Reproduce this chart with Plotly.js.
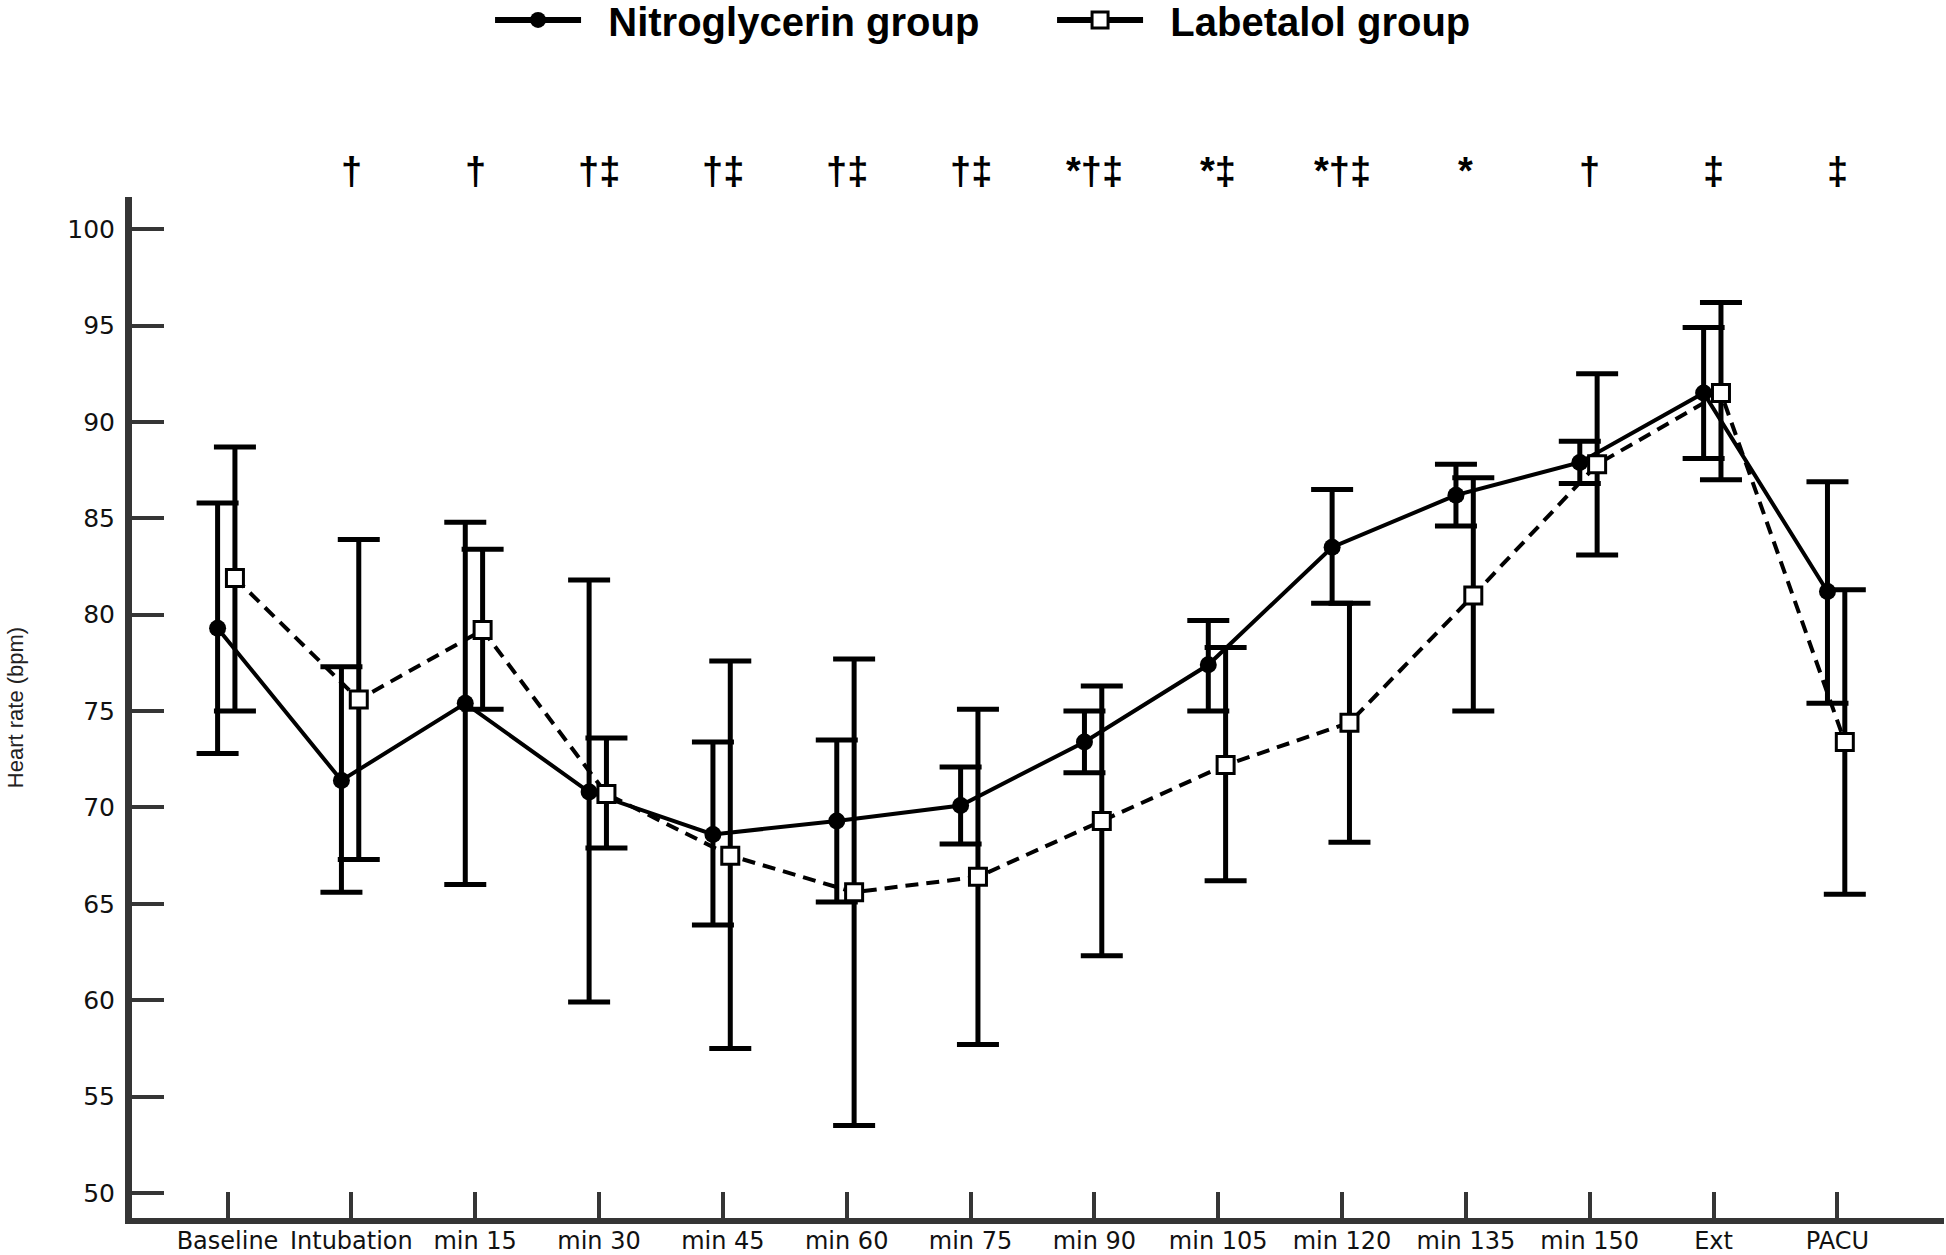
<!DOCTYPE html>
<html>
<head>
<meta charset="utf-8">
<script src="https://cdn.plot.ly/plotly-3.0.1.min.js"></script>
<style>
  html, body { margin: 0; padding: 0; background: #ffffff; }
  #chart { width: 1946px; height: 1255px; }
</style>
</head>
<body>
<div id="chart"></div>
<script>
// ---- data ----
const categories = ["Baseline", "Intubation", "min 15", "min 30", "min 45", "min 60", "min 75",
                    "min 90", "min 105", "min 120", "min 135", "min 150", "Ext", "PACU"];

const nitroMean  = [79.3, 71.4, 75.4, 70.8, 68.6, 69.3, 70.1, 73.4, 77.4, 83.5, 86.2, 87.9, 91.5, 81.2];
const nitroUpper = [85.8, 77.3, 84.8, 81.8, 73.4, 73.5, 72.1, 75.0, 79.7, 86.5, 87.8, 89.0, 94.9, 86.9];
const nitroLower = [72.8, 65.6, 66.0, 59.9, 63.9, 65.1, 68.1, 71.8, 75.0, 80.6, 84.6, 86.8, 88.1, 75.4];

const labMean  = [81.9, 75.6, 79.2, 70.7, 67.5, 65.6, 66.4, 69.3, 72.2, 74.4, 81.0, 87.8, 91.5, 73.4];
const labUpper = [88.7, 83.9, 83.4, 73.6, 77.6, 77.7, 75.1, 76.3, 78.3, 80.6, 87.1, 92.5, 96.2, 81.3];
const labLower = [75.0, 67.3, 75.1, 67.9, 57.5, 53.5, 57.7, 62.3, 66.2, 68.2, 75.0, 83.1, 87.0, 65.5];

const significance = ["", "†", "†", "†‡", "†‡", "†‡", "†‡", "*†‡", "*‡", "*†‡", "*", "†", "‡", "‡"];

const seriesNames = ["Nitroglycerin group", "Labetalol group"];
const yTickValues = [50, 55, 60, 65, 70, 75, 80, 85, 90, 95, 100];

// ---- helpers ----
const idx = categories.map((_, i) => i);
const nitroX = idx.map(i => i - 0.08);
const labX   = idx.map(i => i + 0.06);
const diff = (a, b) => a.map((v, i) => v - b[i]);

const axisColor = "#353535";
const tickFontFamily = "DejaVu Sans, Verdana, sans-serif";
const nbsp = "\u00A0\u00A0";

const circleMarker = { symbol: "circle", size: 17, color: "#000000" };
const squareMarker = { symbol: "square", size: 17, color: "#ffffff", line: { color: "#000000", width: 3 } };

const traces = [
  {
    type: "scatter",
    mode: "lines+markers",
    name: seriesNames[0],
    showlegend: false,
    x: nitroX,
    y: nitroMean,
    line: { color: "#000000", width: 4 },
    marker: circleMarker,
    error_y: {
      type: "data", symmetric: false,
      array: diff(nitroUpper, nitroMean),
      arrayminus: diff(nitroMean, nitroLower),
      color: "#000000", thickness: 5, width: 21
    },
    cliponaxis: false
  },
  {
    type: "scatter",
    mode: "lines+markers",
    name: seriesNames[1],
    showlegend: false,
    x: labX,
    y: labMean,
    line: { color: "#000000", width: 4, dash: "13px,8px" },
    marker: squareMarker,
    error_y: {
      type: "data", symmetric: false,
      array: diff(labUpper, labMean),
      arrayminus: diff(labMean, labLower),
      color: "#000000", thickness: 5, width: 21
    },
    cliponaxis: false
  },
  // legend keys (solid line with the group's marker, as in the reference key)
  {
    type: "scatter", mode: "lines+markers",
    name: nbsp + seriesNames[0],
    x: [null], y: [null],
    line: { color: "#000000", width: 6 },
    marker: circleMarker,
    hoverinfo: "skip"
  },
  {
    type: "scatter", mode: "lines+markers",
    name: nbsp + seriesNames[1],
    x: [null], y: [null],
    line: { color: "#000000", width: 6 },
    marker: squareMarker,
    hoverinfo: "skip"
  }
];

const annotations = significance.map((s, i) => ({
  x: i, y: 1.0255, xref: "x", yref: "paper",
  text: s, showarrow: false,
  xanchor: "center", yanchor: "middle",
  font: { family: "Liberation Sans, Arial, sans-serif", size: 38, color: "#000000", weight: "bold" }
})).filter(a => a.text !== "");

const layout = {
  width: 1946,
  height: 1255,
  paper_bgcolor: "#ffffff",
  plot_bgcolor: "#ffffff",
  margin: { l: 132, r: 2, t: 197, b: 37, pad: 0, autoexpand: false },
  showlegend: true,
  legend: {
    orientation: "h",
    xref: "paper", yref: "paper",
    x: 0.1976, xanchor: "left",
    y: 1.1734, yanchor: "middle",
    itemwidth: 86,
    entrywidth: 461,
    font: { family: "Liberation Sans, Arial, sans-serif", size: 40, color: "#000000", weight: "bold" },
    bgcolor: "rgba(0,0,0,0)",
    borderwidth: 0
  },
  xaxis: {
    range: [-0.7712, 13.861],
    tickmode: "array",
    tickvals: idx,
    ticktext: categories,
    ticks: "inside",
    ticklen: 26,
    tickwidth: 4,
    tickcolor: axisColor,
    showline: true,
    linecolor: axisColor,
    linewidth: 6,
    showgrid: false,
    zeroline: false,
    ticklabelstandoff: -4,
    tickfont: { family: tickFontFamily, size: 24, color: "#111111" },
    automargin: false
  },
  yaxis: {
    range: [48.70, 101.67],
    tickmode: "array",
    tickvals: yTickValues,
    ticktext: yTickValues.map(String),
    ticks: "inside",
    ticklen: 32,
    tickwidth: 4,
    tickcolor: axisColor,
    showline: true,
    linecolor: axisColor,
    linewidth: 7,
    showgrid: false,
    zeroline: false,
    ticklabelstandoff: 5,
    tickfont: { family: tickFontFamily, size: 25, color: "#111111" },
    title: {
      text: "Heart rate (bpm)",
      font: { family: "Liberation Sans, Arial, sans-serif", size: 22, color: "#222222" },
      standoff: 40
    },
    automargin: false
  },
  annotations: annotations
};

Plotly.newPlot("chart", traces, layout, { displayModeBar: false, staticPlot: true });
</script>
</body>
</html>
